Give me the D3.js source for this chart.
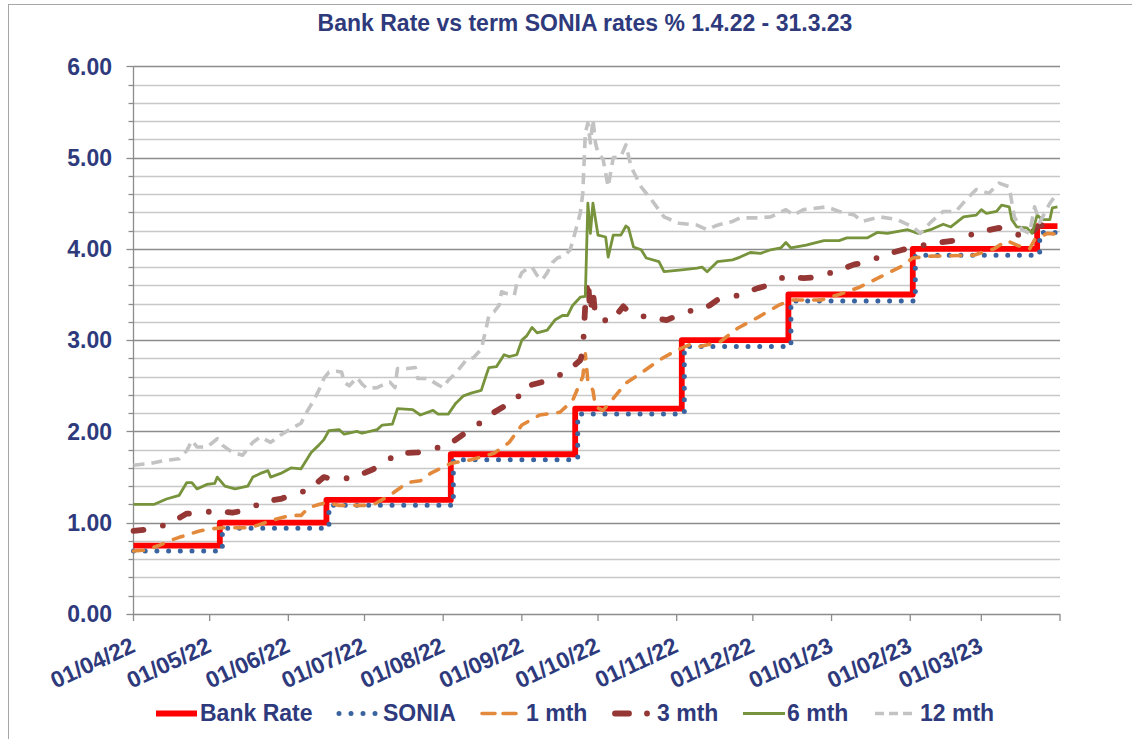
<!DOCTYPE html>
<html><head><meta charset="utf-8">
<script src="https://cdn.jsdelivr.net/npm/d3@7"></script>
<style>
body{margin:0;background:#fff;}
text{font-family:"Liberation Sans",Arial,sans-serif;font-weight:bold;fill:#2E3A7C;}
</style>
</head><body>
<svg id="c" width="1132" height="739"></svg>
<script>
const titleText = "Bank Rate vs term SONIA rates % 1.4.22 - 31.3.23";
const yTicks = [0, 1, 2, 3, 4, 5, 6];
const yMinorStep = 0.2;
const xTickDates = ["2022-04-01","2022-05-01","2022-06-01","2022-07-01","2022-08-01","2022-09-01","2022-10-01","2022-11-01","2022-12-01","2023-01-01","2023-02-01","2023-03-01","2023-04-01"];
const xTickLabels = ["01/04/22","01/05/22","01/06/22","01/07/22","01/08/22","01/09/22","01/10/22","01/11/22","01/12/22","01/01/23","01/02/23","01/03/23",""];
const seriesNames = ["Bank Rate","SONIA","1 mth","3 mth","6 mth","12 mth"];

const bankRate = [["2022-04-01",0.75],["2022-05-05",1.00],["2022-06-16",1.25],["2022-08-04",1.75],["2022-09-22",2.25],["2022-11-03",3.00],["2022-12-15",3.50],["2023-02-02",4.00],["2023-03-23",4.25],["2023-03-31",4.25]];
const sonia = [["2022-04-01",0.69],["2022-05-06",0.94],["2022-06-17",1.19],["2022-08-05",1.69],["2022-09-23",2.19],["2022-11-04",2.93],["2022-12-16",3.43],["2023-02-03",3.93],["2023-03-24",4.18],["2023-03-31",4.18]];

const m1 = [["2022-04-01",0.69],["2022-04-06",0.70],["2022-04-11",0.75],["2022-04-15",0.80],["2022-04-19",0.84],["2022-04-27",0.91],["2022-05-01",0.93],["2022-05-06",0.945],["2022-05-16",0.945],["2022-05-18",0.955],["2022-05-26",1.03],["2022-06-02",1.08],["2022-06-06",1.08],["2022-06-09",1.165],["2022-06-13",1.20],["2022-06-16",1.22],["2022-06-21",1.19],["2022-07-04",1.19],["2022-07-11",1.30],["2022-07-18",1.44],["2022-07-23",1.46],["2022-07-27",1.54],["2022-08-04",1.65],["2022-08-12",1.69],["2022-08-21",1.76],["2022-08-27",1.88],["2022-09-01",2.07],["2022-09-08",2.18],["2022-09-16",2.21],["2022-09-21",2.34],["2022-09-25",2.60],["2022-09-26",2.85],["2022-09-27",2.55],["2022-09-29",2.45],["2022-09-30",2.27],["2022-10-03",2.23],["2022-10-07",2.36],["2022-10-12",2.53],["2022-10-18",2.64],["2022-10-25",2.78],["2022-11-01",2.89],["2022-11-06",2.95],["2022-11-10",2.93],["2022-11-18",2.98],["2022-11-25",3.13],["2022-12-03",3.25],["2022-12-11",3.38],["2022-12-16",3.44],["2022-12-28",3.44],["2023-01-04",3.50],["2023-01-12",3.58],["2023-01-20",3.69],["2023-01-28",3.80],["2023-02-02",3.90],["2023-02-09",3.92],["2023-02-26",3.93],["2023-03-06",4.00],["2023-03-11",4.09],["2023-03-15",4.04],["2023-03-20",4.00],["2023-03-22",4.10],["2023-03-27",4.17],["2023-03-31",4.16]];

const m3 = [["2022-04-01",0.91],["2022-04-08",0.93],["2022-04-15",0.99],["2022-04-22",1.10],["2022-04-26",1.10],["2022-05-03",1.13],["2022-05-10",1.11],["2022-05-16",1.14],["2022-05-22",1.23],["2022-05-29",1.26],["2022-06-02",1.30],["2022-06-09",1.36],["2022-06-15",1.50],["2022-06-20",1.47],["2022-06-27",1.50],["2022-07-04",1.58],["2022-07-08",1.64],["2022-07-14",1.76],["2022-07-22",1.77],["2022-08-03",1.85],["2022-08-09",1.97],["2022-08-13",2.03],["2022-08-18",2.16],["2022-08-26",2.29],["2022-08-29",2.31],["2022-09-02",2.49],["2022-09-09",2.54],["2022-09-13",2.58],["2022-09-19",2.66],["2022-09-24",2.78],["2022-09-25",2.87],["2022-09-26",3.40],["2022-09-27",3.66],["2022-09-28",3.30],["2022-09-29",3.53],["2022-09-30",3.25],["2022-10-06",3.20],["2022-10-11",3.37],["2022-10-13",3.31],["2022-10-19",3.26],["2022-10-28",3.22],["2022-11-05",3.31],["2022-11-14",3.38],["2022-11-17",3.44],["2022-11-25",3.49],["2022-12-03",3.57],["2022-12-07",3.60],["2022-12-13",3.69],["2022-12-21",3.68],["2022-12-26",3.69],["2023-01-02",3.75],["2023-01-10",3.83],["2023-01-15",3.85],["2023-01-21",3.93],["2023-01-29",3.99],["2023-02-02",4.02],["2023-02-10",4.06],["2023-02-18",4.09],["2023-02-22",4.13],["2023-03-01",4.19],["2023-03-08",4.23],["2023-03-13",4.18],["2023-03-19",4.12],["2023-03-23",4.24],["2023-03-28",4.29],["2023-03-31",4.27]];

const m6 = [["2022-04-01",1.20],["2022-04-09",1.20],["2022-04-14",1.26],["2022-04-19",1.30],["2022-04-22",1.44],["2022-04-24",1.44],["2022-04-26",1.37],["2022-04-30",1.42],["2022-05-03",1.43],["2022-05-04",1.50],["2022-05-07",1.40],["2022-05-11",1.37],["2022-05-16",1.40],["2022-05-18",1.50],["2022-05-21",1.54],["2022-05-24",1.57],["2022-05-25",1.50],["2022-05-29",1.54],["2022-06-02",1.60],["2022-06-06",1.59],["2022-06-10",1.77],["2022-06-13",1.85],["2022-06-15",1.91],["2022-06-17",2.01],["2022-06-21",2.02],["2022-06-23",1.97],["2022-06-28",2.00],["2022-06-30",1.98],["2022-07-06",2.02],["2022-07-08",2.07],["2022-07-12",2.08],["2022-07-14",2.25],["2022-07-20",2.24],["2022-07-23",2.18],["2022-07-28",2.23],["2022-07-30",2.19],["2022-08-03",2.19],["2022-08-06",2.31],["2022-08-09",2.39],["2022-08-12",2.42],["2022-08-16",2.45],["2022-08-18",2.62],["2022-08-19",2.70],["2022-08-22",2.71],["2022-08-25",2.84],["2022-08-27",2.82],["2022-08-30",2.84],["2022-09-01",3.00],["2022-09-03",3.05],["2022-09-05",3.14],["2022-09-07",3.08],["2022-09-11",3.11],["2022-09-14",3.22],["2022-09-17",3.27],["2022-09-19",3.27],["2022-09-21",3.38],["2022-09-24",3.47],["2022-09-26",3.48],["2022-09-27",4.50],["2022-09-28",4.17],["2022-09-29",4.50],["2022-10-01",4.15],["2022-10-04",4.13],["2022-10-05",3.91],["2022-10-07",4.15],["2022-10-10",4.15],["2022-10-12",4.25],["2022-10-13",4.23],["2022-10-15",4.02],["2022-10-18",3.99],["2022-10-20",3.90],["2022-10-25",3.86],["2022-10-27",3.75],["2022-11-03",3.77],["2022-11-09",3.79],["2022-11-11",3.80],["2022-11-13",3.75],["2022-11-17",3.86],["2022-11-23",3.88],["2022-11-26",3.91],["2022-11-30",3.96],["2022-12-04",3.95],["2022-12-08",3.99],["2022-12-12",4.01],["2022-12-14",4.07],["2022-12-16",4.01],["2022-12-22",4.04],["2022-12-29",4.09],["2023-01-04",4.09],["2023-01-07",4.12],["2023-01-15",4.12],["2023-01-19",4.18],["2023-01-23",4.17],["2023-01-31",4.21],["2023-02-04",4.17],["2023-02-09",4.21],["2023-02-14",4.27],["2023-02-17",4.24],["2023-02-22",4.35],["2023-02-27",4.37],["2023-03-01",4.43],["2023-03-03",4.39],["2023-03-07",4.41],["2023-03-09",4.48],["2023-03-12",4.46],["2023-03-13",4.32],["2023-03-15",4.24],["2023-03-19",4.23],["2023-03-21",4.17],["2023-03-23",4.37],["2023-03-25",4.32],["2023-03-28",4.32],["2023-03-29",4.45],["2023-03-31",4.46]];

const m12 = [["2022-04-01",1.63],["2022-04-08",1.65],["2022-04-13",1.68],["2022-04-19",1.70],["2022-04-22",1.79],["2022-04-24",1.90],["2022-04-26",1.83],["2022-04-30",1.83],["2022-05-04",1.92],["2022-05-06",1.85],["2022-05-10",1.77],["2022-05-14",1.74],["2022-05-18",1.88],["2022-05-21",1.94],["2022-05-25",1.88],["2022-05-29",1.96],["2022-06-02",2.03],["2022-06-06",2.09],["2022-06-08",2.20],["2022-06-11",2.34],["2022-06-13",2.45],["2022-06-15",2.58],["2022-06-17",2.65],["2022-06-20",2.66],["2022-06-22",2.65],["2022-06-23",2.54],["2022-06-25",2.50],["2022-06-28",2.59],["2022-06-30",2.52],["2022-07-02",2.47],["2022-07-06",2.48],["2022-07-09",2.52],["2022-07-11",2.54],["2022-07-13",2.48],["2022-07-14",2.69],["2022-07-18",2.69],["2022-07-21",2.70],["2022-07-22",2.58],["2022-07-26",2.58],["2022-07-30",2.51],["2022-08-01",2.48],["2022-08-03",2.56],["2022-08-06",2.64],["2022-08-08",2.71],["2022-08-10",2.78],["2022-08-13",2.81],["2022-08-16",2.90],["2022-08-17",3.02],["2022-08-18",3.14],["2022-08-19",3.27],["2022-08-21",3.31],["2022-08-23",3.38],["2022-08-24",3.53],["2022-08-26",3.51],["2022-08-29",3.49],["2022-08-30",3.62],["2022-09-01",3.74],["2022-09-04",3.80],["2022-09-05",3.80],["2022-09-07",3.71],["2022-09-09",3.66],["2022-09-11",3.74],["2022-09-13",3.85],["2022-09-15",3.90],["2022-09-18",3.93],["2022-09-20",3.99],["2022-09-21",4.08],["2022-09-24",4.39],["2022-09-25",4.61],["2022-09-26",5.27],["2022-09-27",5.38],["2022-09-28",5.16],["2022-09-29",5.42],["2022-09-30",5.16],["2022-10-01",5.05],["2022-10-03",4.98],["2022-10-05",4.68],["2022-10-07",5.00],["2022-10-10",5.01],["2022-10-12",5.14],["2022-10-14",4.90],["2022-10-18",4.68],["2022-10-22",4.54],["2022-10-27",4.35],["2022-11-02",4.28],["2022-11-09",4.26],["2022-11-13",4.21],["2022-11-17",4.26],["2022-11-23",4.30],["2022-11-26",4.34],["2022-12-03",4.34],["2022-12-08",4.35],["2022-12-14",4.43],["2022-12-17",4.37],["2022-12-21",4.43],["2022-12-30",4.46],["2023-01-04",4.41],["2023-01-10",4.37],["2023-01-13",4.30],["2023-01-20",4.35],["2023-01-27",4.32],["2023-02-02",4.24],["2023-02-05",4.17],["2023-02-09",4.29],["2023-02-14",4.41],["2023-02-19",4.41],["2023-02-23",4.54],["2023-02-27",4.65],["2023-03-04",4.61],["2023-03-08",4.72],["2023-03-12",4.68],["2023-03-14",4.35],["2023-03-17",4.21],["2023-03-20",4.17],["2023-03-22",4.46],["2023-03-24",4.29],["2023-03-28",4.50],["2023-03-31",4.61]];

const parse = d3.timeParse("%Y-%m-%d");
const svg = d3.select("#c");
const x = d3.scaleTime().domain([parse("2022-04-01"), parse("2023-04-01")]).range([133.5, 1060]);
const y = d3.scaleLinear().domain([0, 6]).range([614, 66.3]);

// outer border
svg.append("rect").attr("x",8.5).attr("y",4.5).attr("width",1130).attr("height",800)
  .attr("fill","none").attr("stroke","#A6A6A6").attr("stroke-width",1);

// title
svg.append("text").attr("x",585).attr("y",31).attr("text-anchor","middle")
  .style("font-size","23px").text(titleText);

// gridlines
const grid = d3.range(0, 6.0001, yMinorStep).map(v => +v.toFixed(1));
const isMajor = v => Math.abs(v - Math.round(v)) < 1e-6;
svg.append("g").selectAll("line").data(grid.filter(v => v > 0)).join("line")
  .attr("x1", x.range()[0]).attr("x2", x.range()[1])
  .attr("y1", d => Math.round(y(d)) + 0.5).attr("y2", d => Math.round(y(d)) + 0.5)
  .attr("stroke", d => isMajor(d) ? "#8C8C8C" : "#C8C8C8").attr("stroke-width", 1.3);

// y axis line + ticks
svg.append("line").attr("x1",x.range()[0]).attr("x2",x.range()[0]).attr("y1",y(6)).attr("y2",y(0))
  .attr("stroke","#8C8C8C").attr("stroke-width",1.3);
svg.append("g").selectAll("line").data(grid).join("line")
  .attr("x1", d => x.range()[0] - (isMajor(d) ? 7 : 5)).attr("x2", x.range()[0])
  .attr("y1", d => Math.round(y(d)) + 0.5).attr("y2", d => Math.round(y(d)) + 0.5)
  .attr("stroke","#8C8C8C").attr("stroke-width",1.3);
svg.append("g").selectAll("text").data(yTicks).join("text")
  .attr("x", 112).attr("y", d => y(d)).attr("dy","0.36em").attr("text-anchor","end")
  .style("font-size","23px").text(d => d3.format(".2f")(d));

// x axis line + ticks
svg.append("line").attr("x1",x.range()[0]).attr("x2",x.range()[1]).attr("y1",614.5).attr("y2",614.5)
  .attr("stroke","#8C8C8C").attr("stroke-width",1.3);
const xt = xTickDates.map(parse);
svg.append("g").selectAll("line").data(xt).join("line")
  .attr("x1", d => x(d)).attr("x2", d => x(d)).attr("y1", 614).attr("y2", 621)
  .attr("stroke","#8C8C8C").attr("stroke-width",1.3);
svg.append("g").selectAll("text").data(xt).join("text")
  .attr("transform", d => `translate(${x(d) + 3},651) rotate(-25)`)
  .attr("text-anchor","end").style("font-size","23px")
  .text((d, i) => xTickLabels[i]);

// series
const toPts = arr => arr.map(([d, v]) => [parse(d), v]);
const lineLin = d3.line().x(d => x(d[0])).y(d => y(d[1]));
const lineStep = d3.line().x(d => x(d[0])).y(d => y(d[1])).curve(d3.curveStepAfter);

const styles = [
  {data: bankRate, gen: lineStep, color: "#FF0000", w: 5.8, dash: null, cap: "butt"},
  {data: sonia, gen: lineStep, color: "#3A64A0", w: 5, dash: "0,11.7", cap: "round"},
  {data: m1, gen: lineLin, color: "#E3893C", w: 3.6, dash: "10,11", cap: "round"},
  {data: m3, gen: lineLin, color: "#953735", w: 5.8, dash: "10,20,0,19", cap: "round"},
  {data: m6, gen: lineLin, color: "#77933C", w: 2.8, dash: null, cap: "butt"},
  {data: m12, gen: lineLin, color: "#C3C3C3", w: 3.6, dash: "11,7", cap: "butt"}
];
const gS = svg.append("g");
styles.forEach(s => {
  gS.append("path").attr("d", s.gen(toPts(s.data))).attr("fill","none")
    .attr("stroke", s.color).attr("stroke-width", s.w)
    .attr("stroke-dasharray", s.dash).attr("stroke-linecap", s.cap)
    .attr("stroke-linejoin","round");
});

// legend
const lg = svg.append("g");
const ly = 713.5, lt = 721;
const legendItems = [
  {x1:156, x2:197, tx:200},
  {x1:339, x2:376, tx:383},
  {x1:482, x2:521, tx:526},
  {x1:612, x2:649, tx:657},
  {x1:743, x2:785, tx:787},
  {x1:875, x2:913, tx:920}
];
const legendDash = [null, "0,12", "13,8", "14,18,0,30", null, "9,5"];
legendItems.forEach((it, i) => {
  const s = styles[i];
  const ln = lg.append("line").attr("x1", it.x1).attr("x2", it.x2).attr("y1", ly).attr("y2", ly)
    .attr("stroke", s.color).attr("stroke-width", s.w).attr("stroke-linecap", s.cap);
  if (legendDash[i]) ln.attr("stroke-dasharray", legendDash[i]);
  if (i === 3) ln.attr("x1", it.x1 + 3);
  lg.append("text").attr("x", it.tx).attr("y", lt).style("font-size","23px").text(seriesNames[i]);
});
</script>
</body></html>
